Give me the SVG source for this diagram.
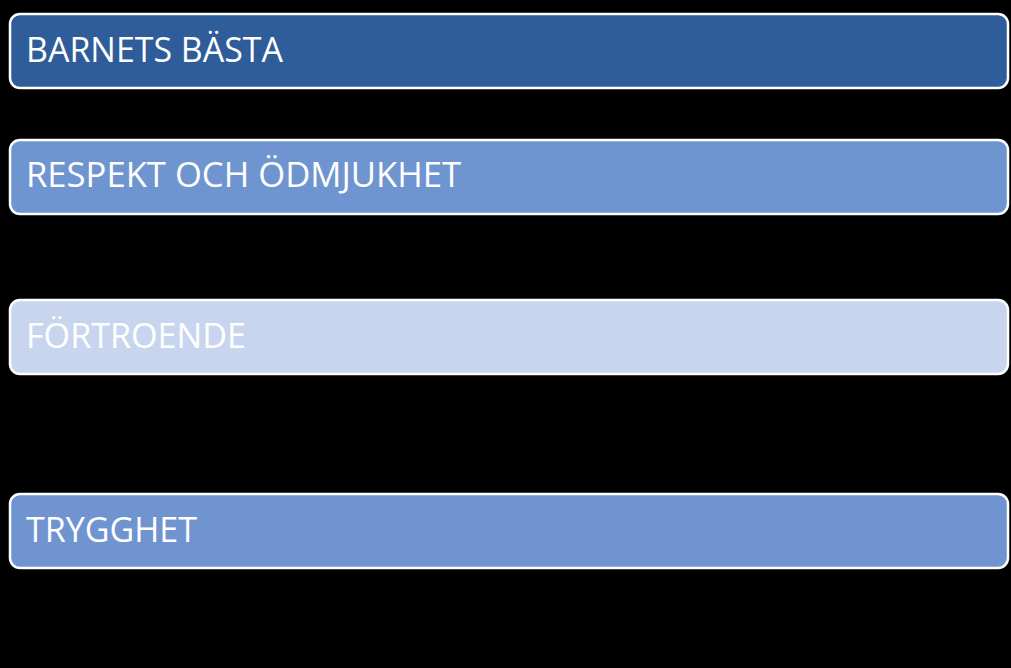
<svg xmlns="http://www.w3.org/2000/svg" width="1011" height="668" viewBox="0 0 1011 668">
<style>
.box{stroke:#ffffff;stroke-width:2.5}
.lbl{font-family:"Open Sans","Noto Sans",sans-serif;font-size:34px;fill:#ffffff}
</style>
<rect x="0" y="0" width="1011" height="668" fill="#000000"/>
<g id="connectors"></g>
<g id="node1">
<rect class="box" x="10" y="14" width="998" height="74" rx="10" fill="#2F5D99"/>
<text class="lbl" x="26" y="62" textLength="257" lengthAdjust="spacingAndGlyphs">BARNETS BÄSTA</text>
</g>
<g id="node2">
<rect class="box" x="10" y="140" width="998" height="74" rx="10" fill="#6F95D0"/>
<text class="lbl" x="26" y="187" textLength="435" lengthAdjust="spacingAndGlyphs">RESPEKT OCH ÖDMJUKHET</text>
</g>
<g id="node3">
<rect class="box" x="10" y="300" width="998" height="74" rx="10" fill="#C8D5EE"/>
<text class="lbl" x="26" y="348" textLength="220" lengthAdjust="spacingAndGlyphs">FÖRTROENDE</text>
</g>
<g id="node4">
<rect class="box" x="10" y="494" width="998" height="74" rx="10" fill="#6F94D0"/>
<text class="lbl" x="26" y="542" textLength="171" lengthAdjust="spacingAndGlyphs">TRYGGHET</text>
</g>
</svg>
